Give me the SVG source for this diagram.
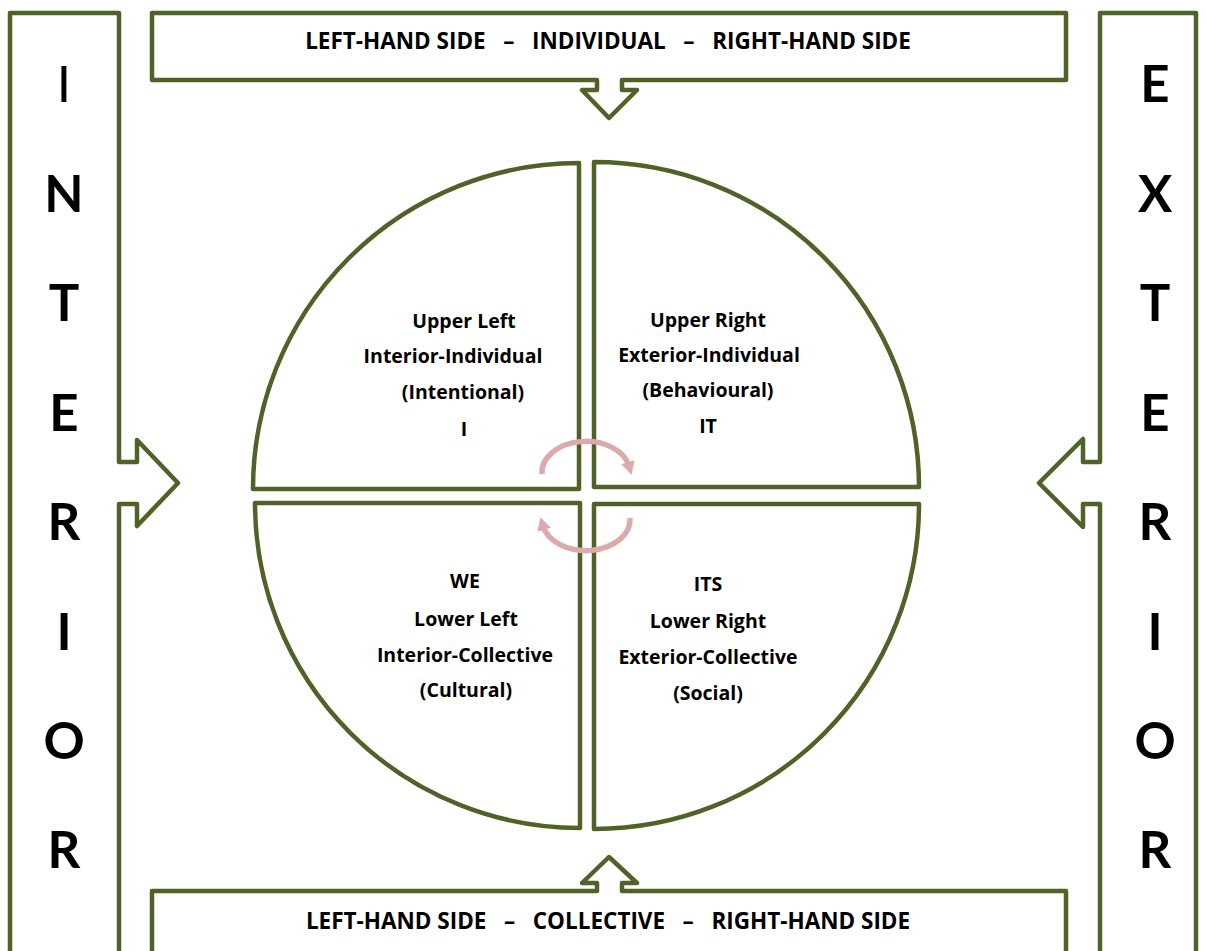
<svg xmlns="http://www.w3.org/2000/svg" width="1206" height="951" viewBox="0 0 1206 951">
<style>
.frame{fill:#ffffff;stroke:#4f6228;stroke-width:4.5;stroke-linejoin:round}
.quad{fill:#ffffff;stroke:#4f6228;stroke-width:4.5;stroke-linejoin:round}
.cyc{fill:none;stroke:#dcaaaa;stroke-width:5.5}
.big{font-family:Lato,"Liberation Sans",sans-serif;font-weight:bold;font-size:51px;fill:#000;text-anchor:middle}
.lbl{font-family:"Open Sans","Liberation Sans",sans-serif;font-weight:bold;font-size:19.5px;fill:#000;text-anchor:middle}
.hdr{font-family:"Open Sans","Liberation Sans",sans-serif;font-weight:bold;font-size:22.5px;fill:#000;text-anchor:middle;white-space:pre}
</style>
<defs>
<marker id="ah" markerUnits="userSpaceOnUse" markerWidth="16" markerHeight="16" refX="4" refY="8" orient="auto">
<path d="M0,1 L13,8 L0,15 z" fill="#dcaaaa"/>
</marker>
</defs>
<rect width="1206" height="951" fill="#ffffff"/>

<g id="interior">
<path class="frame" d="M10,960 L10,13 L119,13 L119,462 L137,462 L137,440 L178,483 L137,526 L137,504 L119,504 L119,960"/>
<text class="big" x="64" y="102" style="font-weight:normal">I</text>
<text class="big" x="64" y="212">N</text>
<text class="big" x="64" y="321">T</text>
<text class="big" x="64" y="431">E</text>
<text class="big" x="64" y="540">R</text>
<text class="big" x="64" y="650">I</text>
<text class="big" x="64" y="759">O</text>
<text class="big" x="64" y="868">R</text>
</g>

<g id="exterior">
<path class="frame" d="M1100,960 L1100,504 L1083,504 L1083,527 L1039,483 L1083,439 L1083,462 L1100,462 L1100,13 L1196,13 L1196,960"/>
<text class="big" x="1155" y="102">E</text>
<text class="big" x="1155" y="212">X</text>
<text class="big" x="1155" y="321">T</text>
<text class="big" x="1155" y="431">E</text>
<text class="big" x="1155" y="540">R</text>
<text class="big" x="1155" y="650">I</text>
<text class="big" x="1155" y="759">O</text>
<text class="big" x="1155" y="868">R</text>
</g>

<g id="individual">
<path class="frame" d="M152,13 L1066,13 L1066,80 L622,80 L622,90 L637,90 L609,118 L582,90 L597,90 L597,80 L152,80 Z"/>
<text class="hdr" x="608" y="49" xml:space="preserve">LEFT-HAND SIDE   –   INDIVIDUAL   –   RIGHT-HAND SIDE</text>
</g>

<g id="collective">
<path class="frame" d="M152,960 L152,891 L597,891 L597,883 L582,883 L609,857 L637,883 L622,883 L622,891 L1066,891 L1066,960"/>
<text class="hdr" x="608" y="929" xml:space="preserve">LEFT-HAND SIDE   –   COLLECTIVE   –   RIGHT-HAND SIDE</text>
</g>

<g id="upper-left">
<path class="quad" d="M579,489 L579,163 A326,326 0 0 0 253,489 Z"/>
<text class="lbl" x="464" y="328">Upper Left</text>
<text class="lbl" x="453" y="363">Interior-Individual</text>
<text class="lbl" x="463" y="399">(Intentional)</text>
<text class="lbl" x="464" y="436">I</text>
</g>

<g id="upper-right">
<path class="quad" d="M594,487 L594,162 A325,325 0 0 1 919,487 Z"/>
<text class="lbl" x="708" y="327">Upper Right</text>
<text class="lbl" x="709" y="362">Exterior-Individual</text>
<text class="lbl" x="708" y="397">(Behavioural)</text>
<text class="lbl" x="708" y="433">IT</text>
</g>

<g id="lower-left">
<path class="quad" d="M580,503 L255,503 A325,325 0 0 0 580,828 Z"/>
<text class="lbl" x="465" y="588">WE</text>
<text class="lbl" x="466" y="626">Lower Left</text>
<text class="lbl" x="465" y="662">Interior-Collective</text>
<text class="lbl" x="466" y="697">(Cultural)</text>
</g>

<g id="lower-right">
<path class="quad" d="M594,504 L919,504 A325,325 0 0 1 594,829 Z"/>
<text class="lbl" x="708" y="591">ITS</text>
<text class="lbl" x="708" y="628">Lower Right</text>
<text class="lbl" x="708" y="664">Exterior-Collective</text>
<text class="lbl" x="708" y="700">(Social)</text>
</g>

<g id="connectors">
<path class="cyc" marker-end="url(#ah)" d="M542,474 A44,31 0 0 1 629,466"/>
<path class="cyc" marker-end="url(#ah)" d="M630,518 A44,31 0 0 1 543,526"/>
</g>
</svg>
